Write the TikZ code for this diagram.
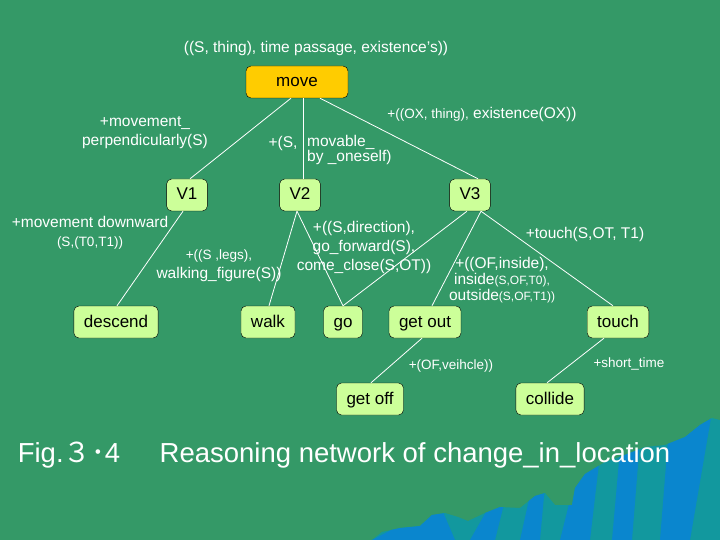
\documentclass[tikz,border=0pt]{standalone}
\usepackage{fontspec}
\setmainfont{Liberation Sans}
\newfontfamily\cjkfont{Noto Sans CJK JP}
\usetikzlibrary{calc}
\definecolor{slidebg}{RGB}{52,153,103}
\definecolor{movefill}{RGB}{255,204,0}
\definecolor{verbfill}{RGB}{204,255,153}
\definecolor{hillblue}{RGB}{10,134,206}
\definecolor{hillteal}{RGB}{18,152,158}
\newcommand\fsbig{\fontsize{15.5}{19}\selectfont}
\newcommand\fssml{\fontsize{13.5}{16}\selectfont}
\newcommand\fstiny{\fontsize{12}{15}\selectfont}
\tikzset{
  verb/.style   = {draw=black, fill=verbfill, rounded corners=5pt,
                   minimum height=32pt, inner xsep=10pt, inner ysep=0pt,
                   text height=13pt, text depth=3pt,
                   font=\fontsize{17}{17}\selectfont},
  root/.style   = {verb, fill=movefill, minimum width=102pt},
  link/.style   = {draw=white, line width=0.8pt},
  cond/.style   = {text=white, align=center, inner sep=0pt, font=\fsbig},
  caption/.style= {text=white, inner sep=0pt, font=\fontsize{27.5}{30}\selectfont},
}

\begin{document}
\begin{tikzpicture}[x=1pt, y=-1pt]

  % ── slide background ──
  \fill[slidebg] (0,0) rectangle (720,540);

  % ── hills in the lower right corner ──
  \begin{scope}
    \clip (372,540) -- (382,532) -- (400,528) -- (420,526) -- (432,515)
      -- (445,513) -- (458,517) -- (468,521) -- (485,513) -- (500,507)
      -- (520,508) -- (535,496) -- (545,493) -- (555,505) -- (572,505)
      -- (575,488) -- (585,474) -- (605,462) -- (622,456) -- (645,447)
      -- (665,445) -- (685,437) -- (700,425) -- (712,418) -- (720,420)
      -- (720,540) -- cycle;
    \fill[hillteal] (360,400) rectangle (720,540);
    \fill[hillblue] (372,540) -- (410,520) -- (440,505) -- (455,540) -- cycle;
    \fill[hillblue] (470,540) -- (490,505) -- (505,500) -- (495,540) -- cycle;
    \fill[hillblue] (520,540) -- (530,495) -- (545,485) -- (540,540) -- cycle;
    \fill[hillblue] (560,540) -- (575,480) -- (600,455) -- (590,540) -- cycle;
    \fill[hillblue] (612,540) -- (620,450) -- (640,440) -- (632,540) -- cycle;
    \fill[hillblue] (660,540) -- (668,440) -- (712,412) -- (690,540) -- cycle;
  \end{scope}

  % ── title above the root ──
  \node[cond] (premise) at (316,48) {((S, thing), time passage, existence's))};

  % ── verb boxes ──
  \node[root] (move)    at (297,82)  {move};
  \node[verb] (V1)      at (187,195) {V1};
  \node[verb] (V2)      at (300,195) {V2};
  \node[verb] (V3)      at (470,195) {V3};
  \node[verb] (descend) at (116,322) {descend};
  \node[verb] (walk)    at (268,322) {walk};
  \node[verb] (go)      at (343,322) {go};
  \node[verb] (getout)  at (425,322) {get out};
  \node[verb] (touch)   at (618,322) {touch};
  \node[verb] (getoff)  at (370,399) {get off};
  \node[verb] (collide) at (550,399) {collide};

  % ── links ──
  \draw[link] ([xshift=-6pt]move.south) -- ([xshift=3pt]V1.north);
  \draw[link] ([xshift=6pt]move.south)  -- ([xshift=3pt]V2.north);
  \draw[link] ([xshift=23pt]move.south) -- ([xshift=8pt]V3.north);
  \draw[link] ([xshift=-4pt]V1.south)   -- ([xshift=1pt]descend.north);
  \draw[link] ([xshift=-3pt]V2.south)   -- ([xshift=1pt]walk.north);
  \draw[link] ([xshift=-3pt]V2.south)   -- (go.north);
  \draw[link] ([xshift=-3pt]V3.south)   -- (go.north);
  \draw[link] ([xshift=11pt]V3.south)   -- ([xshift=7pt]getout.north);
  \draw[link] ([xshift=11pt]V3.south)   -- ([xshift=-5pt]touch.north);
  \draw[link] ([xshift=-3pt]getout.south) -- ([xshift=1pt]getoff.north);
  \draw[link] ([xshift=-14pt]touch.south) -- ([xshift=-3pt]collide.north);

  % ── conditions on the links ──
  \node[cond] (c-perp)  at (145,133) {+movement\_\\perpendicularly(S)};
  \node[cond] (c-mov)   at (283,143) {+(S,};
  \node[cond, align=left, anchor=west, font=\fontsize{15.5}{15}\selectfont]
    (c-self) at (307,150) {movable\_\\by \_oneself)};
  \node[cond] (c-ox)    at (482,114) {{\fssml +((OX, thing),} existence(OX))};
  \node[cond] (c-down)  at (90,233)  {+movement downward\\{\fssml (S,(T0,T1))}};
  \node[cond] (c-legs)  at (219,266) {{\fssml +((S ,legs),}\\walking\_figure(S))};
  \node[cond] (c-dir)   at (364,247) {+((S,direction),\\go\_forward(S),\\come\_close(S,OT))};
  \node[cond] (c-touch) at (585,234) {+touch(S,OT, T1)};
  \node[cond, font=\fontsize{15.5}{16}\selectfont] (c-in) at (502,280)
    {+((OF,inside),\\inside{\fstiny (S,OF,T0),}\\outside{\fstiny (S,OF,T1))}};
  \node[cond, font=\fssml] (c-veh)   at (451,366) {+(OF,veihcle))};
  \node[cond, font=\fssml] (c-short) at (629,364) {+short\_time};

  % ── caption ──
  \node[caption] (fig)   at (69,455)  {Fig.{\cjkfont ３･}4};
  \node[caption] (title) at (415,455) {Reasoning network of change\_in\_location};

\end{tikzpicture}
\end{document}
